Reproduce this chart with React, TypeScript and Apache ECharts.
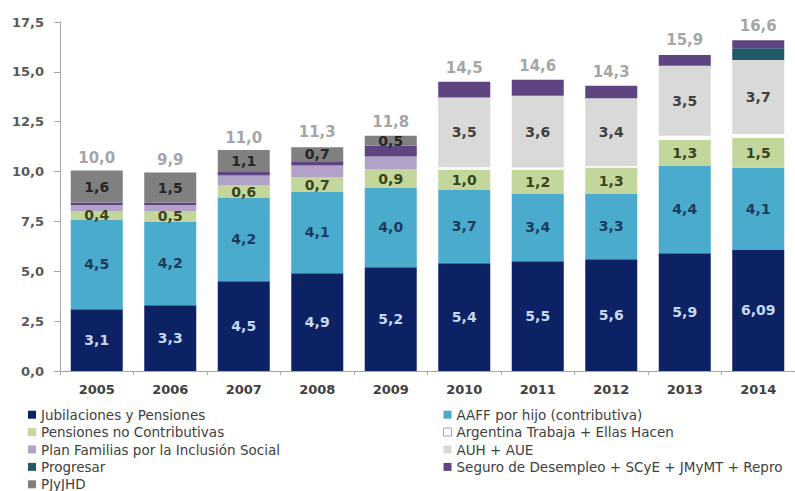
import React, { useEffect, useRef } from "react";
import * as echarts from "echarts";

const years = ["2005", "2006", "2007", "2008", "2009", "2010", "2011", "2012", "2013", "2014"];
const jubilaciones = [3.1, 3.3, 4.5, 4.9, 5.2, 5.4, 5.5, 5.6, 5.9, 6.09];
const aaff = [4.5, 4.2, 4.2, 4.1, 4.0, 3.7, 3.4, 3.3, 4.4, 4.1];
const pensionesNoContrib = [0.4, 0.5, 0.6, 0.7, 0.9, 1.0, 1.2, 1.3, 1.3, 1.5];
const argentinaTrabaja = [null, null, null, null, null, 0.12, 0.1, 0.08, 0.2, 0.2];
const planFamilias = [0.33, 0.33, 0.5, 0.6, 0.65, null, null, null, null, null];
const auhAue = [null, null, null, null, null, 3.5, 3.6, 3.4, 3.5, 3.7];
const progresar = [null, null, null, null, null, null, null, null, null, 0.6];
const seguro = [0.12, 0.12, 0.18, 0.22, 0.55, 0.78, 0.8, 0.62, 0.55, 0.4];
const pjyjhd = [1.6, 1.5, 1.1, 0.7, 0.5, null, null, null, null, null];
const totals = [10.0, 9.9, 11.0, 11.3, 11.8, 14.5, 14.6, 14.3, 15.9, 16.6];

const FONT = "DejaVu Sans";

const fmt = (v: number) => (Number.isInteger(v) ? v.toFixed(1) : String(v)).replace(".", ",");

export default function App() {
  const ref = useRef<HTMLDivElement>(null);
  useEffect(() => {
    if (!ref.current) return;
    const chart = echarts.init(ref.current, null, { renderer: "svg" });
    const lbl = (color: string) => ({
      show: true,
      position: "inside",
      color,
      fontFamily: FONT,
      fontSize: 14,
      fontWeight: "bold",
      formatter: (p: any) => fmt(p.value),
    });
    const bar = (name: string, data: any[], color: string, label?: any) => ({
      name,
      type: "bar",
      stack: "total",
      data,
      barWidth: 52,
      itemStyle: { color },
      label: label || { show: false },
      emphasis: { disabled: true },
    });
    const legendText = { color: "#404040", fontFamily: FONT, fontSize: 13.5, lineHeight: 17.4 };
    const legendBase = {
      orient: "vertical",
      top: 406,
      height: 120,
      padding: 0,
      itemWidth: 8,
      itemHeight: 8,
      itemGap: 0,
      icon: "rect",
      selectedMode: false,
      textStyle: legendText,
    };
    chart.setOption({
      animation: false,
      textStyle: { fontFamily: FONT },
      grid: { left: 60, top: 22, width: 740, height: 349 },
      legend: [
        {
          ...legendBase,
          left: 28,
          data: [
            "Jubilaciones y Pensiones",
            "Pensiones no Contributivas",
            "Plan Familias por la Inclusión Social",
            "Progresar",
            "PJyJHD",
          ],
        },
        {
          ...legendBase,
          left: 443,
          data: [
            "AAFF por hijo (contributiva)",
            { name: "Argentina Trabaja + Ellas Hacen", itemStyle: { borderColor: "#a6a6a6", borderWidth: 1 } },
            "AUH + AUE",
            "Seguro de Desempleo + SCyE + JMyMT + Repro",
          ],
        },
      ],
      xAxis: {
        type: "category",
        data: years,
        axisLine: { lineStyle: { color: "#a6a6a6" } },
        axisTick: { show: true, length: 4, lineStyle: { color: "#a6a6a6" } },
        axisLabel: { color: "#404040", fontFamily: FONT, fontSize: 13, fontWeight: "bold", margin: 12 },
      },
      yAxis: {
        type: "value",
        min: 0,
        max: 17.5,
        interval: 2.5,
        splitLine: { show: false },
        axisLine: { show: true, lineStyle: { color: "#a6a6a6" } },
        axisTick: { show: true, length: 6, lineStyle: { color: "#a6a6a6" } },
        axisLabel: {
          color: "#595959",
          fontFamily: FONT,
          fontSize: 13,
          fontWeight: "bold",
          margin: 16,
          formatter: (v: number) => v.toFixed(1).replace(".", ","),
        },
      },
      series: [
        bar("Jubilaciones y Pensiones", jubilaciones, "#0c2265", lbl("#c6d9f1")),
        bar("AAFF por hijo (contributiva)", aaff, "#4aabcc", lbl("#1b3a5c")),
        bar("Pensiones no Contributivas", pensionesNoContrib, "#c3d69b", lbl("#3a4520")),
        bar("Argentina Trabaja + Ellas Hacen", argentinaTrabaja, "#ffffff"),
        bar("Plan Familias por la Inclusión Social", planFamilias, "#b3a2c7"),
        bar("AUH + AUE", auhAue, "#d9d9d9", lbl("#404040")),
        bar("Progresar", progresar, "#215968"),
        bar("Seguro de Desempleo + SCyE + JMyMT + Repro", seguro, "#5f4482"),
        bar("PJyJHD", pjyjhd, "#808080", lbl("#262626")),
        {
          name: "Total",
          type: "scatter",
          data: totals,
          symbolSize: 0,
          silent: true,
          label: {
            show: true,
            position: "top",
            distance: 6,
            color: "#8c8c8c",
            fontFamily: FONT,
            fontSize: 15,
            fontWeight: "bold",
            formatter: (p: any) => fmt(p.value),
          },
        },
      ],
    });
    return () => chart.dispose();
  }, []);
  return (
    <div
      ref={ref}
      style={{ position: "absolute", left: 0, top: 0, width: 795, height: 491, background: "#fff" }}
    />
  );
}
